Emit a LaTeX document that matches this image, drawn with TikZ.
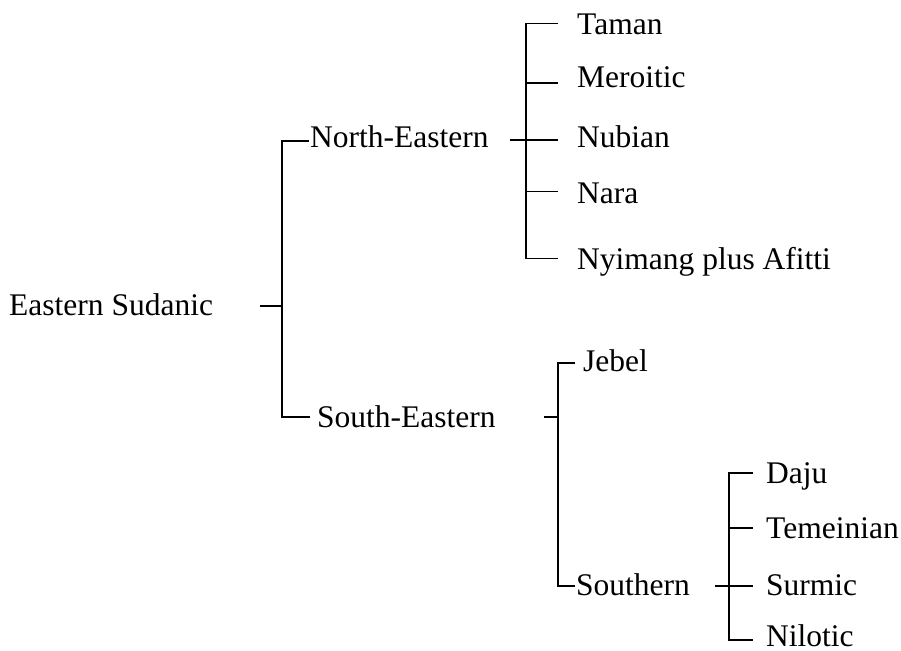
\documentclass[tikz,border=0pt]{standalone}
\usepackage{fontspec}
\setmainfont{Liberation Serif}
\usetikzlibrary{positioning}

\begin{document}
\begin{tikzpicture}[x=1pt, y=-1pt,
  every node/.style={font=\fontsize{31.5}{36}\selectfont},
  lang/.style={anchor=base west, inner sep=0pt},
  link/.style={line width=1.9pt}
]
\useasboundingbox (0,0) rectangle (901,650);

% labels
\node[lang] (root) at (9,315) {Eastern Sudanic};
\node[lang] (ne) at (310,147.5) {North-Eastern};
\node[lang] (se) at (317,427) {South-Eastern};
\node[lang] (taman) at (577,35) {Taman};
\node[lang] (meroitic) at (577,88) {Meroitic};
\node[lang] (nubian) at (577,147) {Nubian};
\node[lang] (nara) at (577,203) {Nara};
\node[lang] (nyimang) at (577,269) {Nyimang plus Afitti};
\node[lang] (jebel) at (583,371) {Jebel};
\node[lang] (southern) at (576,595) {Southern};
\node[lang] (daju) at (766,483.5) {Daju};
\node[lang] (temeinian) at (766,538.5) {Temeinian};
\node[lang] (surmic) at (766,595) {Surmic};
\node[lang] (nilotic) at (766,646) {Nilotic};

% stubs and forks
\coordinate (root-out) at (260,306);   \coordinate (root-fork) at (282,306);
\coordinate (ne-out) at (510,140);     \coordinate (ne-fork) at (526,140);
\coordinate (se-out) at (544,417);     \coordinate (se-fork) at (558,417);
\coordinate (south-out) at (715,586);  \coordinate (south-fork) at (729,586);

% branch ends
\coordinate (ne-in) at (309,141);
\coordinate (se-in) at (310,417);
\coordinate (taman-in) at (558,23.5);
\coordinate (meroitic-in) at (558,83);
\coordinate (nubian-in) at (558,140);
\coordinate (nara-in) at (558,191.5);
\coordinate (nyimang-in) at (558,258.5);
\coordinate (jebel-in) at (575,363);
\coordinate (southern-in) at (575,586);
\coordinate (daju-in) at (753,473);
\coordinate (temeinian-in) at (753,528);
\coordinate (surmic-in) at (753,586);
\coordinate (nilotic-in) at (753,640);

% Eastern Sudanic
\draw[link] (root-out) -- (root-fork);
\draw[link] (ne-in) -- (root-fork |- ne-in) -- (root-fork |- se-in) -- (se-in);

% North-Eastern
\draw[link] (ne-out) -- (ne-fork);
\draw[link] (taman-in) -- (ne-fork |- taman-in) -- (ne-fork |- nyimang-in) -- (nyimang-in);
\draw[link] (ne-fork |- meroitic-in) -- (meroitic-in);
\draw[link] (ne-fork |- nubian-in) -- (nubian-in);
\draw[link] (ne-fork |- nara-in) -- (nara-in);

% South-Eastern
\draw[link] (se-out) -- (se-fork);
\draw[link] (jebel-in) -- (se-fork |- jebel-in) -- (se-fork |- southern-in) -- (southern-in);

% Southern
\draw[link] (south-out) -- (south-fork);
\draw[link] (daju-in) -- (south-fork |- daju-in) -- (south-fork |- nilotic-in) -- (nilotic-in);
\draw[link] (south-fork |- temeinian-in) -- (temeinian-in);
\draw[link] (south-fork |- surmic-in) -- (surmic-in);
\end{tikzpicture}
\end{document}
